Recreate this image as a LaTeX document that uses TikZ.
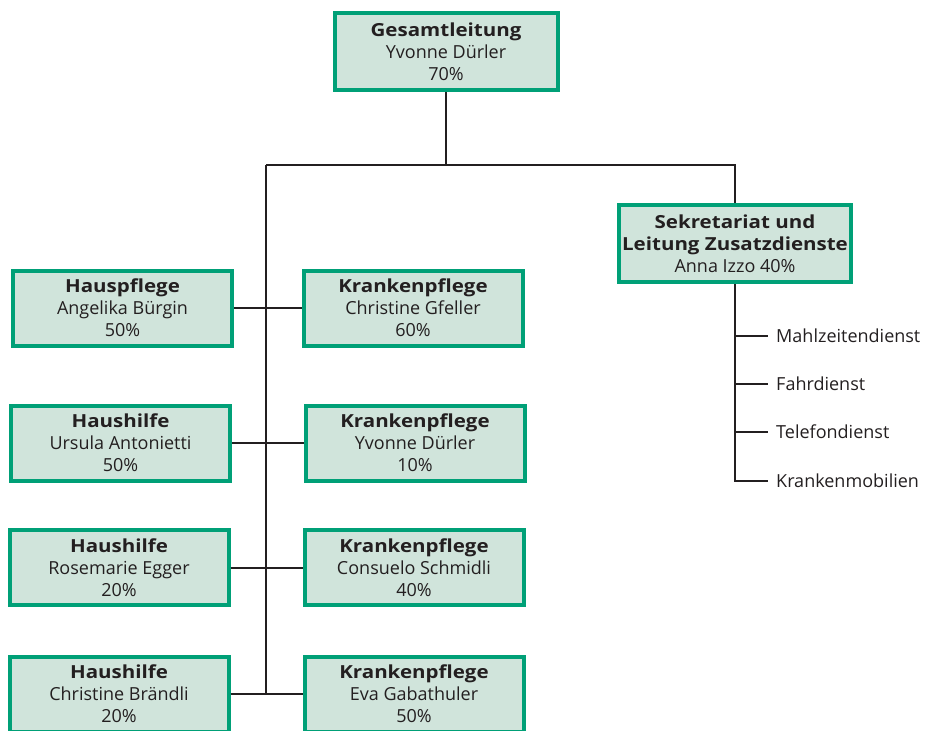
\documentclass[tikz,border=0pt]{standalone}
\usepackage{fontspec}
\setmainfont{Open Sans}
\newfontfamily\unitheadfont{Open Sans}[FakeStretch=1.14]
\usepackage{xcolor}
\usetikzlibrary{positioning}

\definecolor{boxgreen}{HTML}{00A077}
\definecolor{boxfill}{HTML}{D0E4DB}
\definecolor{inkgray}{HTML}{231F20}
\newcommand{\unithead}[1]{{\unitheadfont\bfseries #1}}

\begin{document}
\begin{tikzpicture}[
    x=1pt, y=-1pt,
    unit/.style={draw=boxgreen, fill=boxfill, line width=4pt, text=inkgray, align=center,
        font=\fontsize{18}{22}\selectfont, inner sep=0pt, minimum width=219pt, minimum height=75pt},
    head/.style={unit, minimum width=223pt, minimum height=77pt},
    service/.style={anchor=west, text=inkgray, font=\fontsize{18}{20}\selectfont, inner sep=0pt, xshift=8pt},
    link/.style={draw=inkgray, line width=2pt},
]
\useasboundingbox (0,0) rectangle (925,730);
% top of the tree
\node[head] (lead) at (446,51.5) {\unithead{Gesamtleitung}\\Yvonne Dürler\\70\%};
\node[head, minimum width=232pt] (sek) at (735,243.5) {\unithead{Sekretariat und}\\\unithead{Leitung Zusatzdienste}\\Anna Izzo 40\%};
% left column
\node[unit] (hp)  at (122.5,308)  {\unithead{Hauspflege}\\Angelika Bürgin\\50\%};
\node[unit] (hh1) at (120.5,443)  {\unithead{Haushilfe}\\Ursula Antonietti\\50\%};
\node[unit] (hh2) at (119,567.5)  {\unithead{Haushilfe}\\Rosemarie Egger\\20\%};
\node[unit] (hh3) at (119,694)    {\unithead{Haushilfe}\\Christine Brändli\\20\%};
% right column
\node[unit] (kp1) at (413,308)    {\unithead{Krankenpflege}\\Christine Gfeller\\60\%};
\node[unit] (kp2) at (415,443)    {\unithead{Krankenpflege}\\Yvonne Dürler\\10\%};
\node[unit] (kp3) at (414,567.5)  {\unithead{Krankenpflege}\\Consuelo Schmidli\\40\%};
\node[unit] (kp4) at (414,694)    {\unithead{Krankenpflege}\\Eva Gabathuler\\50\%};
% extra services
\node[service] (meal)  at (768,336) {Mahlzeitendienst};
\node[service] (drive) at (768,384) {Fahrdienst};
\node[service] (phone) at (768,432) {Telefondienst};
\node[service] (mob)   at (768,481) {Krankenmobilien};
% connectors
\coordinate (barL) at (266,165);
\coordinate (barR) at (735,165);
\draw[link] (lead.south) -- (lead.south |- barL);
\draw[link] (barL) -- (barR) -- (sek.north);
\draw[link] (barL) -- (barL |- hh3.east);
\draw[link] (hp.east) -- (kp1.west);
\draw[link] (hh1.east) -- (kp2.west);
\draw[link] (hh2.east) -- (kp3.west);
\draw[link] (hh3.east) -- (kp4.west);
\draw[link] (sek.south) |- ([xshift=-8pt]mob.west);
\foreach \svc in {meal,drive,phone}
  \draw[link] (sek.south |- \svc.west) -- ([xshift=-8pt]\svc.west);
\end{tikzpicture}
\end{document}
